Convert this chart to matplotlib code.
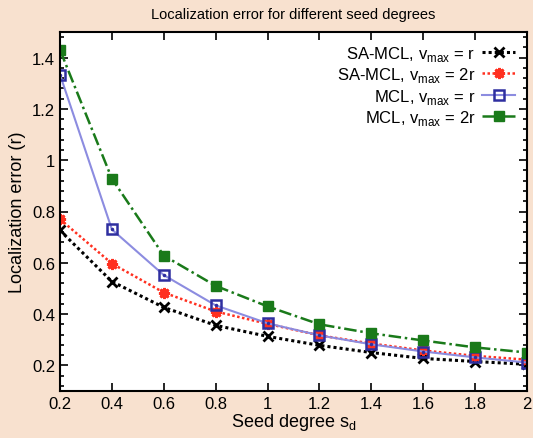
import matplotlib.pyplot as plt
import numpy as np
from matplotlib.ticker import MultipleLocator

plt.rcParams['font.family'] = ['Liberation Sans', 'DejaVu Sans']
plt.rcParams['mathtext.fontset'] = 'custom'
plt.rcParams['mathtext.rm'] = 'Liberation Sans'

seed = [0.2, 0.4, 0.6, 0.8, 1.0, 1.2, 1.4, 1.6, 1.8, 2.0]
samcl_r = [0.726, 0.527, 0.426, 0.356, 0.313, 0.278, 0.250, 0.227, 0.215, 0.204]
samcl_2r = [0.770, 0.597, 0.484, 0.410, 0.362, 0.317, 0.285, 0.258, 0.237, 0.222]
mcl_r = [1.334, 0.730, 0.552, 0.434, 0.364, 0.317, 0.282, 0.254, 0.231, 0.211]
mcl_2r = [1.430, 0.928, 0.628, 0.510, 0.430, 0.360, 0.325, 0.297, 0.270, 0.250]

labels = ['SA-MCL, v$_{\\mathrm{max}}$ = r',
          'SA-MCL, v$_{\\mathrm{max}}$ = 2r',
          'MCL, v$_{\\mathrm{max}}$ = r',
          'MCL, v$_{\\mathrm{max}}$ = 2r']

fig = plt.figure(figsize=(5.33, 4.39), dpi=100, facecolor='#f8e1cf')
ax = fig.add_axes([60 / 533, 47 / 439, 467 / 533, 359 / 439])
ax.set_facecolor('white')

ax.plot(seed, samcl_r, linestyle=(0, (1, 1)), color='black', lw=2.2,
        marker='x', ms=7, mew=2, label=labels[0])
ax.plot(seed, samcl_2r, linestyle=(0, (1, 1)), color='#ff3020', lw=1.8,
        marker=(8, 2, 0), ms=8, mew=2, label=labels[1])
ax.plot(seed, mcl_r, '-', color='#8c8ce0', lw=1.5,
        marker='s', ms=7, mfc='none', mec='#2f2fa0', mew=1.8, label=labels[2])
ax.plot(seed, mcl_r, ' ', marker='.', ms=3, color='#2f2fa0', label='_nolegend_')
ax.plot(seed, mcl_2r, linestyle=(0, (5, 1.5, 1, 1.5)), color='#1a7a1a', lw=1.8,
        marker='s', ms=7, mfc='#1a7a1a', mec='#1a7a1a', label=labels[3])

ax.set_xlim(0.2, 2.0)
ax.set_ylim(0.1, 1.5)
ax.yaxis.set_minor_locator(MultipleLocator(0.04))
ax.set_xticks(seed)
ax.set_xticklabels(['0.2', '0.4', '0.6', '0.8', '1', '1.2', '1.4', '1.6', '1.8', '2'])
ax.set_yticks([0.2, 0.4, 0.6, 0.8, 1.0, 1.2, 1.4])
ax.set_yticklabels(['0.2', '0.4', '0.6', '0.8', '1', '1.2', '1.4'])
ax.tick_params(which='both', direction='in', top=True, right=True, labelsize=12,
               width=1.2)
ax.tick_params(which='major', length=6)
ax.tick_params(which='minor', length=3)
for sp in ax.spines.values():
    sp.set_linewidth(1.5)

ax.set_xlabel('Seed degree s$_{\\mathrm{d}}$', fontsize=13, labelpad=0)
ax.set_ylabel('Localization error (r)', fontsize=13, labelpad=4)
ax.set_title('Localization error for different seed degrees', fontsize=10.5, pad=10)

ax.legend(loc='upper right', frameon=False, markerfirst=False, fontsize=12,
          handlelength=2.0, labelspacing=0.15, borderaxespad=0.3,
          handletextpad=0.4)

fig.savefig('out.png', dpi=100, facecolor=fig.get_facecolor())
